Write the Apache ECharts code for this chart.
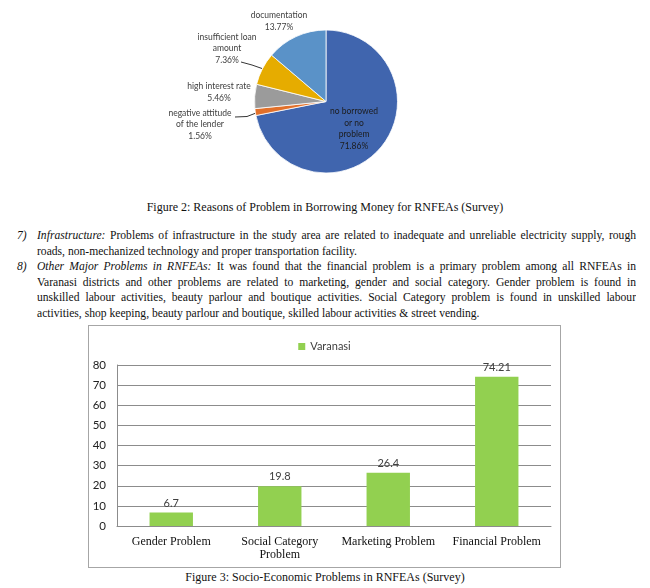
<!DOCTYPE html>
<html><head><meta charset="utf-8">
<script src="https://cdn.jsdelivr.net/npm/echarts@6/dist/echarts.min.js"></script>
<style>
html,body{margin:0;padding:0;background:#fff;width:650px;height:588px;overflow:hidden;}
#pie{position:absolute;left:0;top:0;width:650px;height:190px;}
#bar{position:absolute;left:88px;top:325px;width:473px;height:243px;box-sizing:border-box;border:1px solid #a6a6a6;}
.cap{position:absolute;left:0;width:650px;text-align:center;font-family:"Liberation Serif";font-size:12px;color:#111;line-height:15px;}
.ln{position:absolute;left:37px;width:599px;font-family:"Liberation Serif";font-size:11.6px;color:#111;line-height:15px;white-space:nowrap;}
.j{text-align:justify;text-align-last:justify;white-space:normal;height:15px;overflow:hidden;}
.num{position:absolute;left:17px;font-family:"Liberation Serif";font-size:11.6px;font-style:italic;color:#111;line-height:15px;}
i{font-style:italic;}
</style></head>
<body>
<div id="pie"></div>
<div class="cap" style="top:200px;">Figure 2: Reasons of Problem in Borrowing Money for RNFEAs (Survey)</div>
<div class="num" style="top:228px;">7)</div>
<div class="ln j" style="top:228px;"><i>Infrastructure:</i> Problems of infrastructure in the study area are related to inadequate and unreliable electricity supply, rough</div>
<div class="ln" style="top:243.5px;">roads, non-mechanized technology and proper transportation facility.</div>
<div class="num" style="top:259px;">8)</div>
<div class="ln j" style="top:259px;"><i>Other Major Problems in RNFEAs:</i> It was found that the financial problem is a primary problem among all RNFEAs in</div>
<div class="ln j" style="top:274.5px;">Varanasi districts and other problems are related to marketing, gender and social category. Gender problem is found in</div>
<div class="ln j" style="top:290px;">unskilled labour activities, beauty parlour and boutique activities. Social Category problem is found in unskilled labour</div>
<div class="ln" style="top:305.5px;">activities, shop keeping, beauty parlour and boutique, skilled labour activities &amp; street vending.</div>
<div id="bar"></div>
<div class="cap" style="top:570px;">Figure 3: Socio-Economic Problems in RNFEAs (Survey)</div>
<script>
// ---- Pie data ----
const pieNames = ['no borrowed\nor no\nproblem', 'negative attitude\nof the lender', 'high interest rate', 'insufficient loan\namount', 'documentation'];
const pieValues = [71.86, 1.56, 5.46, 7.36, 13.77];
const pieColors = ['#4065AE', '#E2702A', '#9B9B9B', '#E6AC00', '#5A92C8'];
// ---- Bar data ----
const barCategories = ['Gender Problem', 'Social Category\nProblem', 'Marketing Problem', 'Financial Problem'];
const barValues = [6.7, 19.8, 26.4, 74.21];
const barSeriesName = 'Varanasi';

// label placement (layout only)
const pieLabelAnchors = [[354, 129], [200, 124.5], [219, 92.5], [227, 48.5], [279, 21.5]];
const pieLeaderLines = {1: [[235, 117], [247, 116.5], [256, 113]], 3: [[241, 62], [252, 65], [262, 68.5]]};

const pie = echarts.init(document.getElementById('pie'));
pie.setOption({
  animation: false,
  series: [{
    type: 'pie',
    center: [326, 101.5],
    radius: 71.5,
    startAngle: 90,
    clockwise: true,
    avoidLabelOverlap: false,
    itemStyle: {borderColor: '#fff', borderWidth: 0.8},
    label: {
      show: true,
      formatter: p => p.name + '\n' + p.value.toFixed(2) + '%',
      fontFamily: 'Lato', fontSize: 8.5, lineHeight: 11.5, color: '#404040', align: 'center'
    },
    labelLine: {show: true, length: 5, length2: 5, lineStyle: {color: '#000', width: 0.8}},
    labelLayout: function (params) {
      const a = pieLabelAnchors[params.dataIndex];
      const r = {x: a[0], y: a[1], align: 'center', verticalAlign: 'middle'};
      if (pieLeaderLines[params.dataIndex]) r.labelLinePoints = pieLeaderLines[params.dataIndex];
      return r;
    },
    data: pieNames.map((n, i) => ({
      name: n, value: pieValues[i],
      itemStyle: {color: pieColors[i]},
      label: i === 0 ? {color: '#1c1c1c'} : {},
      labelLine: {show: !!pieLeaderLines[i]}
    }))
  }]
});

const bar = echarts.init(document.getElementById('bar'));
bar.setOption({
  animation: false,
  legend: {
    data: [barSeriesName], top: 10, left: 'center', icon: 'rect', itemWidth: 7, itemHeight: 7, itemGap: 4,
    textStyle: {fontFamily: 'Lato', fontSize: 11, color: '#404040'}
  },
  grid: {left: 28, right: 9, top: 39, bottom: 41},
  xAxis: {
    type: 'category', data: barCategories,
    axisLine: {lineStyle: {color: '#8c8c8c'}},
    axisTick: {show: false},
    axisLabel: {fontFamily: 'Liberation Serif', fontSize: 12, color: '#111', margin: 9, lineHeight: 13, interval: 0}
  },
  yAxis: {
    type: 'value', min: 0, max: 80, interval: 10,
    axisLine: {show: true, lineStyle: {color: '#8c8c8c'}},
    axisTick: {show: false},
    splitLine: {lineStyle: {color: '#8c8c8c'}},
    axisLabel: {fontFamily: 'Lato', fontSize: 11.5, color: '#222', margin: 11}
  },
  series: [{
    name: barSeriesName, type: 'bar', data: barValues, barWidth: '40%',
    itemStyle: {color: '#92D050'},
    label: {show: true, position: 'top', distance: 4, fontFamily: 'Lato', fontSize: 11, color: '#404040'}
  }]
});
</script>
</body></html>
